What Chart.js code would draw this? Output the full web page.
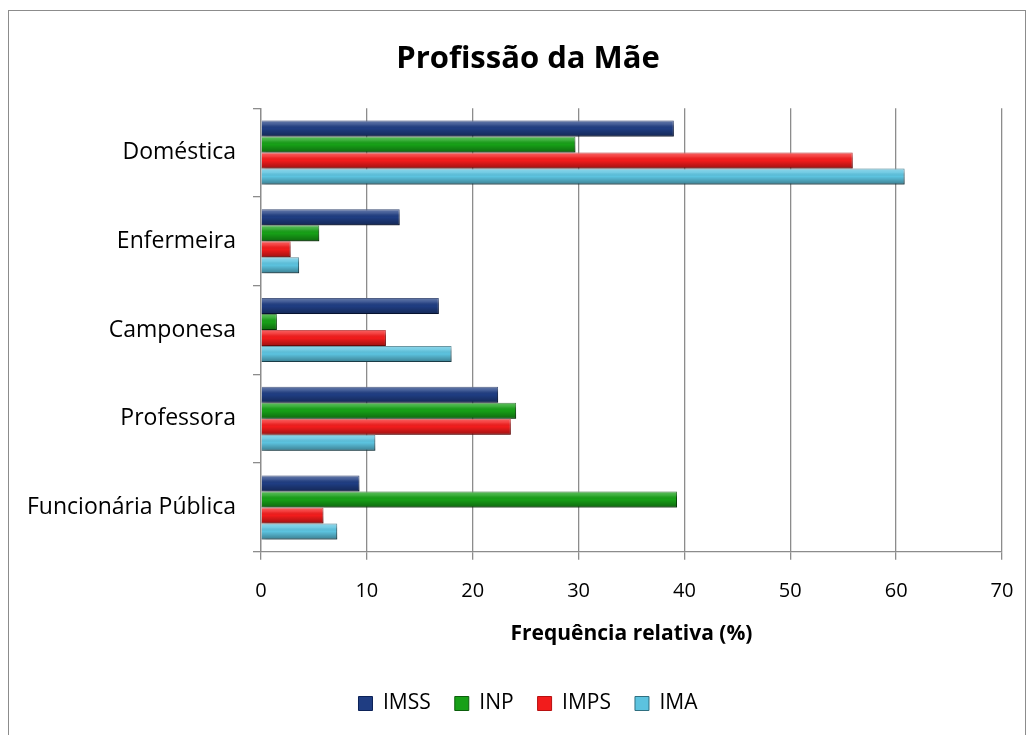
<!DOCTYPE html>
<html><head><meta charset="utf-8">
<script src="https://cdn.jsdelivr.net/npm/chart.js@4/dist/chart.umd.min.js"></script>
<style>
html,body{margin:0;padding:0;background:#fff;overflow:hidden;}
#wrap{position:absolute;left:0;top:0;width:1035px;height:735px;overflow:hidden;}
#frame{position:absolute;left:8px;top:10px;width:1018px;height:740px;border:1px solid #8c8c8c;box-sizing:border-box;}
canvas{position:absolute;left:0;top:0;}
</style></head>
<body>
<div id="wrap"><div id="frame"></div><canvas id="c" width="1046" height="735"></canvas></div>
<script>
const categories = ["Doméstica", "Enfermeira", "Camponesa", "Professora", "Funcionária Pública"];
const seriesNames = ["IMSS", "INP", "IMPS", "IMA"];
const imss = [39.0, 13.1, 16.8, 22.4, 9.3];
const inp  = [29.7, 5.5, 1.5, 24.1, 39.3];
const imps = [55.9, 2.8, 11.8, 23.6, 5.9];
const ima  = [60.8, 3.6, 18.0, 10.8, 7.2];
const xTicks = [0, 10, 20, 30, 40, 50, 60, 70];
const chartTitle = "Profissão da Mãe";
const xTitle = "Frequência relativa (%)";

const fills   = ["#1f3d82", "#17a017", "#f21c1c", "#5cc3df"];
const borders = ["#0c2258", "#0b5e0b", "#b81010", "#2f6f80"];
const FONT = "'Open Sans', sans-serif";

const bevel = {
  id: 'bevel',
  beforeDatasetsDraw(chart) {
    const ctx = chart.ctx;
    ctx.save();
    ctx.shadowColor = 'rgba(0,0,0,0.28)';
    ctx.shadowBlur = 4;
    ctx.shadowOffsetX = 2;
    ctx.shadowOffsetY = 2;
  },
  afterDatasetsDraw(chart) {
    const ctx = chart.ctx;
    ctx.restore();
    chart.data.datasets.forEach((ds, i) => {
      const meta = chart.getDatasetMeta(i);
      meta.data.forEach(el => {
        const p = el.getProps(['x','y','base','height'], true);
        const top = p.y - p.height/2, h = p.height;
        const x0 = Math.min(p.base, p.x), w = Math.abs(p.x - p.base);
        const g = ctx.createLinearGradient(0, top, 0, top + h);
        g.addColorStop(0, 'rgba(255,255,255,0.32)');
        g.addColorStop(0.25, 'rgba(255,255,255,0.14)');
        g.addColorStop(0.5, 'rgba(0,0,0,0.0)');
        g.addColorStop(1, 'rgba(0,0,0,0.35)');
        ctx.save();
        ctx.fillStyle = g;
        ctx.fillRect(x0, top, w, h);
        ctx.restore();
      });
    });
  }
};

const datasets = [imss, inp, imps, ima].map((d, i) => ({
  label: seriesNames[i],
  data: d,
  backgroundColor: fills[i],
  borderColor: borders[i],
  borderWidth: 1,
  categoryPercentage: 0.72,
  barPercentage: 1.0
}));

new Chart(document.getElementById('c'), {
  type: 'bar',
  data: { labels: categories, datasets },
  plugins: [bevel],
  options: {
    indexAxis: 'y',
    responsive: false,
    animation: false,
    devicePixelRatio: 1,
    layout: { padding: { left: 10, right: 0, top: 0, bottom: 11 } },
    plugins: {
      title: { display: true, text: chartTitle, color: '#000',
        font: { family: FONT, size: 31, weight: 'bold' }, padding: { top: 41, bottom: 30 } },
      legend: { position: 'bottom',
        labels: { color: '#000', font: { family: FONT, size: 21 }, boxWidth: 14, boxHeight: 14, padding: 24 } },
      tooltip: { enabled: false }
    },
    scales: {
      x: {
        min: 0, max: 70,
        afterBuildTicks: (s) => { s.ticks = xTicks.map(v => ({ value: v })); },
        ticks: { color: '#000', font: { family: FONT, size: 20 }, padding: 19 },
        grid: { color: '#8c8c8c', lineWidth: 1.3, tickLength: 8, drawTicks: true },
        border: { display: true, color: '#8c8c8c', width: 1.3 },
        title: { display: true, text: xTitle, color: '#000',
          font: { family: FONT, size: 21, weight: 'bold' }, padding: { top: 0, bottom: 22 } }
      },
      y: {
        ticks: { color: '#000', font: { family: FONT, size: 23 }, padding: 17 },
        grid: { offset: true, drawOnChartArea: false, drawTicks: true, tickLength: 8, color: '#8c8c8c', lineWidth: 1.3 },
        border: { display: true, color: '#8c8c8c', width: 1.3 },
        afterFit: (s) => { s.width = 251; }
      },
      yRight: {
        type: 'category',
        position: 'right',
        grid: { display: false },
        border: { display: false },
        ticks: { display: false },
        afterFit: (s) => { s.width = 44; }
      }
    }
  }
});
</script>
</body></html>
